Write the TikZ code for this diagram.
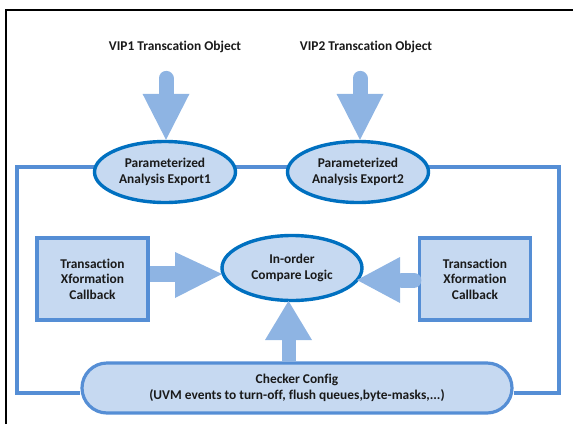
\documentclass[tikz,border=0pt]{standalone}
\usepackage{fontspec}
\setmainfont{Carlito}[Ligatures=NoCommon]
\usetikzlibrary{shapes.geometric,calc,backgrounds}
\definecolor{paleblue}{HTML}{C6D9F1}
\definecolor{deepblue}{HTML}{0070C0}
\definecolor{midblue}{HTML}{558ED5}
\definecolor{arrowblue}{HTML}{8EB4E3}
\definecolor{ink}{HTML}{1A1A1A}
\tikzset{
  txt/.style={font=\fontsize{13.4}{15.5}\selectfont\bfseries, text=ink, align=center},
  oval/.style={txt, ellipse, draw=deepblue, line width=3.4pt, fill=paleblue,
    inner sep=0pt, minimum width=141pt, minimum height=61pt},
  cbbox/.style={txt, rectangle, draw=midblue, line width=3.2pt, fill=paleblue,
    inner sep=0pt, minimum width=111pt, minimum height=82pt},
  pill/.style={txt, rectangle, rounded corners=25pt, draw=midblue, line width=3.2pt,
    fill=paleblue, inner sep=0pt, minimum width=430pt, minimum height=50pt},
  wire/.style={draw=midblue, line width=3.2pt},
  shaft/.style={draw=arrowblue, line cap=round},
  head/.style={fill=arrowblue},
}
\begin{document}
\begin{tikzpicture}[x=1pt,y=-1pt]
\useasboundingbox (0,0) rectangle (573,424);
% page frame, open at right and bottom
\draw[line width=2.4pt] (6,424) -- (6,10) -- (573,10);

% transaction sources
\node[txt] (vip1) at (175,47) {VIP1 Transcation Object};
\node[txt] (vip2) at (366,47) {VIP2 Transcation Object};

% analysis exports
\node[oval] (exp1) at (165,172) {Parameterized\\Analysis Export1};
\node[oval] (exp2) at (358,172) {Parameterized\\Analysis Export2};

% comparator and callbacks
\node[oval, minimum width=140pt, minimum height=65pt] (cmp) at (292,268) {In-order\\Compare Logic};
\node[cbbox] (cbl) at (92.5,279) {Transaction\\Xformation\\Callback};
\node[cbbox] (cbr) at (475,279) {Transaction\\Xformation\\Callback};

% checker configuration
\node[pill] (cfg) at (297,388) {Checker Config\\(UVM events to turn-off, flush queues,byte-masks,...)};

% enclosing wire loop
\coordinate (tl) at (17,167);
\coordinate (tr) at (559,167);
\coordinate (bl) at (17,393);
\coordinate (br) at (559,393);
\begin{scope}[on background layer]
  \draw[wire] (cfg.west |- bl) -- (bl) -- (tl) -- (tr) -- (br) -- (cfg.east |- br);
\end{scope}

% block arrows: sources into exports
\draw[shaft, line width=15pt] ($(vip1.south)+(-9,22)$) -- ($(exp1.north)+(1,-40)$);
\fill[head] ($(exp1.north)+(1,0)$) -- ($(exp1.north)+(-22.5,-46)$) -- ($(exp1.north)+(24.5,-46)$) -- cycle;
\draw[shaft, line width=15pt] ($(vip2.south)+(-6,22)$) -- ($(exp2.north)+(2,-40)$);
\fill[head] ($(exp2.north)+(2,0)$) -- ($(exp2.north)+(-21.5,-46)$) -- ($(exp2.north)+(25.5,-46)$) -- cycle;

% left callback into comparator
\coordinate (ltip) at (222,274);
\fill[head] (cbl.east |- ltip) ++(0,-8) rectangle ($(ltip)+(-45,8)$);
\fill[head] (ltip) -- ($(ltip)+(-47,-22)$) -- ($(ltip)+(-47,24)$) -- cycle;

% right callback into comparator
\coordinate (rtip) at (357,280);
\draw[shaft, line width=15pt] ($(cbr.west |- rtip)+(-4,0)$) -- ($(rtip)+(45,0)$);
\fill[head] (rtip) -- ($(rtip)+(43,-23)$) -- ($(rtip)+(43,23)$) -- cycle;

% configuration into comparator
\coordinate (utip) at (288.5,301);
\fill[head] ($(utip |- cfg.north)+(-7,0)$) rectangle ($(utip)+(7,37)$);
\fill[head] (utip) -- ($(utip)+(-23.5,39)$) -- ($(utip)+(23.5,39)$) -- cycle;
\end{tikzpicture}
\end{document}
